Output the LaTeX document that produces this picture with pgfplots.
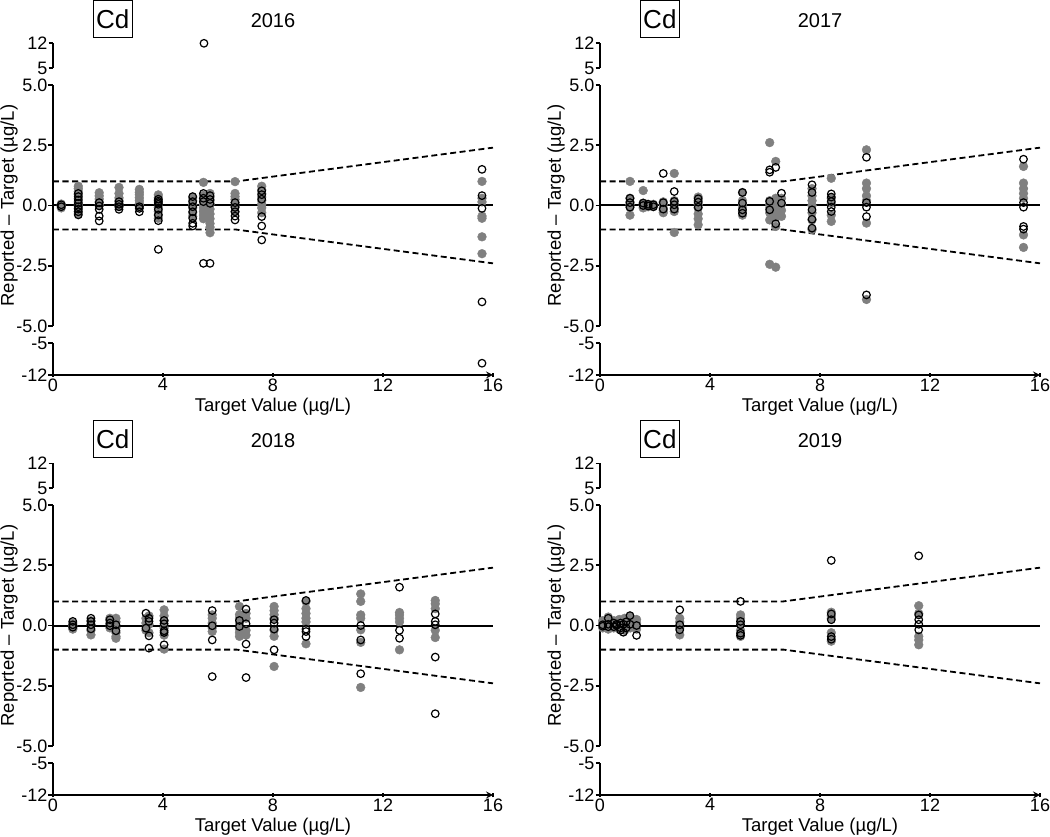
\documentclass[border=0pt]{standalone}
\usepackage{pgfplots}
\usepackage{pgfplotstable}
\pgfplotsset{compat=1.18}
\usepackage{fontspec}
\setmainfont{Liberation Sans}
\definecolor{ptgray}{RGB}{128,128,128}
\newcommand\ticksize{\fontsize{18}{20}\selectfont}
\newcommand\labsize{\fontsize{18.5}{21}\selectfont}
\newcommand\titsize{\fontsize{20}{22}\selectfont}
\newcommand\cdsize{\fontsize{26}{28}\selectfont}

% ---------------- 2016 ----------------
\pgfplotstableread{
x y
0.30 0.06
0.30 -0.02
0.30 -0.10
0.92 0.80
0.92 0.70
0.92 0.58
0.92 0.45
0.92 0.30
0.92 0.15
0.92 0.02
0.92 -0.12
0.92 -0.25
0.92 -0.35
1.68 0.53
1.68 0.40
1.68 0.27
1.68 0.15
1.68 0.02
2.40 0.75
2.40 0.50
2.40 0.32
2.40 0.20
2.40 0.08
2.40 -0.05
3.14 0.67
3.14 0.55
3.14 0.45
3.14 0.32
3.14 0.20
3.14 0.08
3.14 -0.05
3.83 0.44
3.83 0.32
3.83 0.20
3.83 0.05
3.83 -0.08
3.83 -0.25
3.83 -0.40
3.83 -0.53
5.08 0.32
5.08 0.20
5.08 0.05
5.08 -0.10
5.08 -0.30
5.08 -0.45
5.47 0.96
5.47 0.42
5.47 0.30
5.47 0.18
5.47 0.05
5.47 -0.10
5.47 -0.25
5.47 -0.40
5.47 -0.55
5.71 0.50
5.71 0.35
5.71 0.20
5.71 0.05
5.71 -0.15
5.71 -0.35
5.71 -0.55
5.71 -0.75
5.71 -0.90
5.71 -1.13
6.62 0.99
6.62 0.50
6.62 0.37
6.62 0.25
6.62 0.12
6.62 -0.05
6.62 -0.25
7.59 0.80
7.59 0.65
7.59 0.50
7.59 0.35
7.59 0.20
7.59 0.05
7.59 -0.10
7.59 -0.30
15.6 1.00
15.6 0.30
15.6 0.15
15.6 -0.44
15.6 -0.53
15.6 -1.30
15.6 -2.00
}\fA
\pgfplotstableread{
x y
0.30 0.03
0.30 -0.05
0.92 0.50
0.92 0.37
0.92 0.23
0.92 0.09
0.92 -0.05
0.92 -0.15
0.92 -0.26
0.92 -0.39
1.68 0.12
1.68 -0.02
1.68 -0.16
1.68 -0.44
1.68 -0.64
2.40 0.16
2.40 0.05
2.40 -0.05
2.40 -0.16
3.14 -0.05
3.14 -0.12
3.14 -0.26
3.83 0.26
3.83 0.18
3.83 0.12
3.83 0.05
3.83 -0.16
3.83 -0.39
3.83 -0.63
3.83 -1.82
5.08 0.37
5.08 0.16
5.08 -0.05
5.08 -0.26
5.08 -0.53
5.08 -0.74
5.08 -0.85
5.47 0.50
5.47 0.30
5.47 0.16
5.47 -2.40
5.49 12.0
5.71 0.41
5.71 0.25
5.71 0.09
5.71 -2.40
6.62 0.12
6.62 -0.08
6.62 -0.26
6.62 -0.44
6.62 -0.60
7.59 0.61
7.59 0.45
7.59 0.26
7.59 -0.46
7.59 -0.85
7.59 -1.43
15.6 1.50
15.6 0.41
15.6 -0.12
15.6 -4.00
15.6 -9.40
}\oA
% ---------------- 2017 ----------------
\pgfplotstableread{
x y
1.09 1.00
1.09 0.30
1.09 0.15
1.09 0.05
1.09 -0.07
1.09 -0.40
1.57 0.62
1.57 0.10
1.57 0.00
1.57 -0.10
1.75 0.05
1.75 -0.05
1.94 0.05
1.94 -0.05
2.30 0.15
2.30 0.05
2.30 -0.10
2.30 -0.20
2.30 -0.30
2.70 1.33
2.70 0.20
2.70 0.05
2.70 -0.10
2.70 -0.25
2.70 -1.12
3.57 0.35
3.57 0.20
3.57 0.05
3.57 -0.10
3.57 -0.35
3.57 -0.55
3.57 -0.80
5.18 0.54
5.18 0.20
5.18 0.05
5.18 -0.10
5.18 -0.25
5.18 -0.40
6.17 2.61
6.17 0.20
6.17 0.05
6.17 -0.10
6.17 -0.30
6.17 -0.60
6.17 -2.44
6.39 1.83
6.39 0.30
6.39 0.10
6.39 -0.20
6.39 -0.50
6.39 -0.87
6.39 -2.56
6.60 0.30
6.60 0.05
6.60 -0.20
6.60 -0.45
7.71 0.70
7.71 0.40
7.71 0.20
7.71 0.00
7.71 -0.30
7.71 -0.60
7.71 -1.00
8.41 1.13
8.41 0.30
8.41 0.10
8.41 -0.40
8.41 -0.66
9.69 2.31
9.69 0.93
9.69 0.70
9.69 0.40
9.69 0.20
9.69 -0.73
9.69 -3.90
15.4 1.62
15.4 0.93
15.4 0.70
15.4 0.50
15.4 0.30
15.4 -1.22
15.4 -1.74
}\fB
\pgfplotstableread{
x y
1.09 0.30
1.09 0.12
1.09 -0.07
1.57 0.10
1.57 0.00
1.75 0.05
1.75 -0.02
1.94 0.03
1.94 -0.05
2.30 1.33
2.30 0.12
2.30 -0.15
2.70 0.58
2.70 0.17
2.70 0.03
2.70 -0.15
3.57 0.28
3.57 0.14
3.57 -0.07
5.18 0.54
5.18 0.10
5.18 -0.18
5.18 -0.32
6.17 1.48
6.17 1.38
6.17 0.17
6.17 -0.18
6.39 1.58
6.39 -0.76
6.60 0.51
6.60 0.10
7.71 0.86
7.71 0.54
7.71 -0.18
7.71 -0.57
7.71 -0.94
8.41 0.48
8.41 0.35
8.41 0.17
8.41 -0.07
8.41 -0.25
9.69 2.00
9.69 0.12
9.69 -0.07
9.69 -0.46
9.69 -3.71
15.4 1.92
15.4 0.12
15.4 -0.07
15.4 -0.87
15.4 -0.98
}\oB
% ---------------- 2018 ----------------
\pgfplotstableread{
x y
0.72 0.10
0.72 0.00
0.72 -0.10
0.72 -0.15
1.38 0.20
1.38 0.05
1.38 -0.20
1.38 -0.39
2.07 0.30
2.07 0.20
2.07 0.05
2.07 -0.10
2.29 0.30
2.29 0.15
2.29 -0.10
2.29 -0.30
2.29 -0.45
2.29 -0.53
3.38 0.30
3.38 0.10
3.38 -0.20
3.49 0.40
3.49 0.05
3.49 -0.30
4.04 0.65
4.04 0.40
4.04 0.20
4.04 -0.10
4.04 -0.40
4.04 -0.98
5.79 0.44
5.79 0.30
5.79 0.10
5.79 -0.10
5.79 -0.25
6.78 0.79
6.78 0.45
6.78 0.30
6.78 0.10
6.78 -0.15
6.78 -0.30
6.78 -0.45
7.02 0.50
7.02 0.30
7.02 -0.20
7.02 -0.40
8.04 0.79
8.04 0.62
8.04 0.45
8.04 0.30
8.04 -0.20
8.04 -0.45
8.04 -1.70
9.20 1.00
9.20 0.70
9.20 0.50
9.20 0.30
9.20 0.15
9.20 -0.76
11.19 1.31
11.19 1.00
11.19 0.44
11.19 0.30
11.19 -0.18
11.19 -0.70
11.19 -2.57
12.60 0.54
12.60 0.44
12.60 0.30
12.60 0.15
12.60 -1.01
13.90 1.04
13.90 0.90
13.90 0.70
13.90 -0.20
13.90 -0.50
}\fC
\pgfplotstableread{
x y
0.72 0.17
0.72 0.03
0.72 -0.07
1.38 0.30
1.38 0.17
1.38 0.03
1.38 -0.14
2.07 0.24
2.07 0.10
2.07 -0.01
2.29 0.03
2.29 -0.22
3.38 0.51
3.38 -0.11
3.49 0.30
3.49 0.17
3.49 -0.43
3.49 -0.94
4.04 0.21
4.04 0.07
4.04 -0.22
4.04 -0.29
4.04 -0.80
5.79 0.62
5.79 -0.01
5.79 -0.60
5.79 -2.12
6.78 0.21
6.78 -0.04
7.02 0.68
7.02 0.07
7.02 -0.77
7.02 -2.16
8.04 0.24
8.04 0.10
8.04 -0.15
8.04 -1.01
9.20 1.04
9.20 -0.15
9.20 -0.25
9.20 -0.46
11.19 0.00
11.19 -0.60
11.19 -2.00
12.60 1.59
12.60 -0.20
12.60 -0.53
13.90 0.48
13.90 0.17
13.90 0.03
13.90 -1.31
13.90 -3.66
}\oC
% ---------------- 2019 ----------------
\pgfplotstableread{
x y
0.10 0.20
0.10 0.10
0.10 -0.10
0.30 0.35
0.30 0.20
0.30 0.00
0.30 -0.15
0.50 0.20
0.50 0.05
0.50 -0.10
0.70 0.25
0.70 0.10
0.70 -0.15
0.90 0.30
0.90 0.10
0.90 -0.10
0.90 -0.20
1.10 0.35
1.10 0.15
1.10 -0.10
1.33 0.25
1.33 0.10
1.33 -0.15
2.90 0.30
2.90 0.15
2.90 -0.10
2.90 -0.39
5.11 0.44
5.11 0.30
5.11 0.10
5.11 -0.20
5.11 -0.45
8.41 0.55
8.41 0.40
8.41 0.30
8.41 -0.30
8.41 -0.65
11.59 0.82
11.59 0.50
11.59 -0.45
11.59 -0.60
11.59 -0.80
}\fD
\pgfplotstableread{
x y
0.10 0.03
0.10 -0.03
0.30 0.30
0.30 0.05
0.30 -0.05
0.50 0.10
0.50 -0.05
0.60 0.00
0.60 0.05
0.75 0.10
0.75 -0.10
0.75 -0.20
0.85 0.05
0.85 -0.28
0.95 0.15
0.95 -0.10
1.09 0.41
1.09 0.05
1.33 0.00
1.33 -0.41
2.90 0.65
2.90 0.03
2.90 -0.18
5.11 1.00
5.11 0.17
5.11 0.03
5.11 -0.32
5.11 -0.41
8.41 2.70
8.41 0.48
8.41 0.24
8.41 -0.46
8.41 -0.57
11.59 2.89
11.59 0.44
11.59 0.24
11.59 0.05
11.59 -0.18
}\oD

\pgfplotsset{
  seg/.style={scale only axis, width=440pt, xmin=0, xmax=16, clip=false,
    axis y line=left, anchor=south west,
    axis line style={-, line width=2pt, black},
    tick align=outside, major tick length=4.5pt,
    every tick/.style={black, line width=1.6pt},
    tick label style={font=\ticksize},
    yticklabel style={inner xsep=0.8pt},
    xticklabel style={inner ysep=1pt},
    /pgf/number format/assume math mode=true},
  gfill/.style={only marks, mark=*, ptgray, mark size=4.4pt, mark options={fill=ptgray, draw=none}},
  gopen/.style={only marks, mark=o, black, mark size=3.8pt, mark options={draw=black, line width=1.2pt, fill=none}},
}

\newcommand\panel[5]{%
\begin{axis}[seg, axis x line=none, at={(#1pt,#2pt+306.7pt)}, height=25pt, ymin=5, ymax=12,
  ytick={5,12}, yticklabels={5,12}, restrict y to domain=5:13,
  title={#3}, title style={at={(axis description cs:0.5,1)}, anchor=center, yshift=16.3pt, font=\titsize}]
  \addplot[gfill] table {#4};
  \addplot[gopen] table {#5};
  \node[draw=black, line width=1.2pt, minimum width=39pt, minimum height=37pt, inner sep=0pt, font=\cdsize, yshift=24.3pt] at (rel axis cs:0.136,1) {Cd};
\end{axis}
\begin{axis}[seg, axis x line=none, at={(#1pt,#2pt+49pt)}, height=241pt, ymin=-5, ymax=5,
  ytick={-5,-2.5,0,2.5,5}, yticklabels={-5.0,-2.5,0.0,2.5,5.0}, restrict y to domain=-5:5]
  \addplot[black, line width=2pt] coordinates {(0,0) (16,0)};
  \addplot[black, line width=1.8pt, dash pattern=on 6pt off 3.5pt] coordinates {(0,1) (6.667,1) (16,2.4)};
  \addplot[black, line width=1.8pt, dash pattern=on 6pt off 3.5pt] coordinates {(0,-1) (6.667,-1) (16,-2.4)};
  \addplot[gfill] table {#4};
  \addplot[gopen] table {#5};
  \node[font=\labsize, rotate=90, anchor=center] at (rel axis cs:-0.1,0.5) {Reported – Target (µg/L)};
\end{axis}
\begin{axis}[seg, axis x line=bottom, at={(#1pt,#2pt)}, height=31.7pt, ymin=-12, ymax=-5,
  ytick={-12,-5}, yticklabels={-12,-5}, xtick={0,4,8,12,16},
  restrict y to domain=-13:-5]
  \addplot[gfill] table {#4};
  \addplot[gopen] table {#5};
  \node[font=\labsize, anchor=base, yshift=-36.7pt] at (rel axis cs:0.5,0) {Target Value (µg/L)};
\end{axis}
}

\begin{document}
\begin{tikzpicture}
\useasboundingbox (0,0) rectangle (1050pt,836pt);
\panel{53}{461}{2016}{\fA}{\oA}
\panel{600}{461}{2017}{\fB}{\oB}
\panel{53}{41}{2018}{\fC}{\oC}
\panel{600}{41}{2019}{\fD}{\oD}
\end{tikzpicture}
\end{document}
